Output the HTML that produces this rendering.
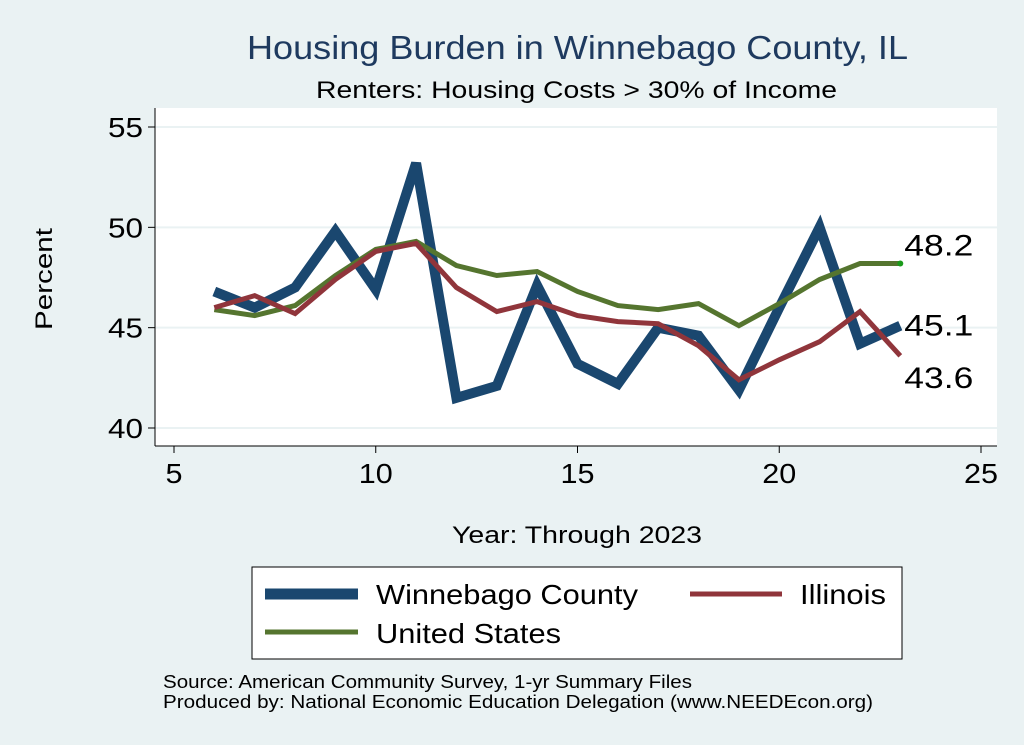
<!DOCTYPE html>
<html><head><meta charset="utf-8"><style>
body{margin:0;background:#eaf2f3;}
svg{display:block;font-family:"Liberation Sans",Arial,sans-serif;}
</style></head><body>
<svg id="chart" width="1024" height="745" viewBox="0 0 1024 745">
<rect x="0" y="0" width="1024" height="745" fill="#eaf2f3"/>
<text x="247" y="59" font-size="33" textLength="661" lengthAdjust="spacingAndGlyphs" fill="#1e3a5f">Housing Burden in Winnebago County, IL</text>
<text x="316" y="98" font-size="24" textLength="521" lengthAdjust="spacingAndGlyphs" fill="#000">Renters: Housing Costs &gt; 30% of Income</text>
<rect x="155" y="108" width="842" height="338" fill="#ffffff"/>
<g id="grid"></g><g id="axes"></g><g id="series"></g><g id="labels"></g>
<text x="52" y="330" font-size="24" textLength="102" lengthAdjust="spacingAndGlyphs" transform="rotate(-90 52 330)">Percent</text>
<text x="452" y="543" font-size="24" textLength="250" lengthAdjust="spacingAndGlyphs">Year: Through 2023</text>
<g>
<rect x="252" y="567" width="650" height="92" fill="#fff" stroke="#000" stroke-width="1"/>
<line x1="265" y1="594" x2="358" y2="594" stroke="#1a476f" stroke-width="11"/>
<text x="376" y="604" font-size="28" textLength="262" lengthAdjust="spacingAndGlyphs">Winnebago County</text>
<line x1="690" y1="594" x2="782" y2="594" stroke="#90353b" stroke-width="5"/>
<text x="800" y="604" font-size="28" textLength="86" lengthAdjust="spacingAndGlyphs">Illinois</text>
<line x1="265" y1="632" x2="358" y2="632" stroke="#55752f" stroke-width="5"/>
<text x="376" y="643" font-size="28" textLength="185" lengthAdjust="spacingAndGlyphs">United States</text>
</g>
<text x="163" y="688" font-size="18" textLength="529" lengthAdjust="spacingAndGlyphs">Source: American Community Survey, 1-yr Summary Files</text>
<text x="163" y="708" font-size="18" textLength="710" lengthAdjust="spacingAndGlyphs">Produced by: National Economic Education Delegation (www.NEEDEcon.org)</text>
</svg>
<script>
const years=[6,7,8,9,10,11,12,13,14,15,16,17,18,19,20,21,22,23];
const winnebago=[46.8,46.0,47.0,49.8,46.9,53.2,41.5,42.1,47.1,43.2,42.2,45.0,44.6,41.9,46.0,50.0,44.2,45.1];
const illinois=[46.0,46.6,45.7,47.4,48.8,49.2,47.0,45.8,46.3,45.6,45.3,45.2,44.1,42.4,43.4,44.3,45.8,43.6];
const unitedStates=[45.9,45.6,46.1,47.6,48.9,49.3,48.1,47.6,47.8,46.8,46.1,45.9,46.2,45.1,46.2,47.4,48.2,48.2];
const xTicks=[5,10,15,20,25];
const yTicks=[40,45,50,55];
const NS='http://www.w3.org/2000/svg';
const X=v=>174+(v-5)*(981-174)/20;
const Y=v=>428-(v-40)*(428-127)/15;
function mk(tag,attrs,parent,txt){const e=document.createElementNS(NS,tag);for(const k in attrs)e.setAttribute(k,attrs[k]);if(txt!==undefined)e.textContent=txt;document.getElementById(parent).appendChild(e);return e;}
yTicks.forEach(t=>{
 const g=mk('line',{x1:155,x2:997,y1:Y(t),y2:Y(t),stroke:'#eaf2f3','stroke-width':2},'grid');
 
 
 const tk=mk('line',{x1:148,x2:155,y1:Y(t),y2:Y(t),stroke:'#000'},'axes');
 
 
 const l=mk('text',{x:143,y:Y(t)+10,'text-anchor':'end','font-size':28,textLength:35,lengthAdjust:'spacingAndGlyphs'},'axes',String(t));
 
 
});
xTicks.forEach(t=>{
 const tk=mk('line',{x1:X(t),x2:X(t),y1:446,y2:453,stroke:'#000'},'axes');
 
 
 const s=String(t);
 const l=mk('text',{x:X(t),y:483,'text-anchor':'middle','font-size':28,textLength:s.length*17,lengthAdjust:'spacingAndGlyphs'},'axes',s);
 
 
});
const ya=mk('line',{x1:155,x2:155,y1:108,y2:446,stroke:'#000'},'axes');


const xa=mk('line',{x1:155,x2:997,y1:446,y2:446,stroke:'#000'},'axes');


function line(vals,color,w,name){
 const d=vals.map((v,i)=>(i?'L':'M')+X(years[i]).toFixed(1)+','+Y(v).toFixed(1)).join(' ');
 const p=mk('path',{d:d,fill:'none',stroke:color,'stroke-width':w,'stroke-linejoin':'miter'},'series');
 
 
}
line(winnebago,'#1a476f',10,'winnebago-line');
line(unitedStates,'#55752f',5,'us-line');
line(illinois,'#90353b',5,'illinois-line');
const n=years.length-1;
const dot=mk('circle',{cx:X(years[n]),cy:Y(unitedStates[n]),r:3,fill:'#1a9a1a'},'series');


[[unitedStates,-8,'us-end-label'],[winnebago,10,'winnebago-end-label'],[illinois,32,'illinois-end-label']].forEach(([s,dy,nm])=>{
 const t=mk('text',{x:X(years[n])+4,y:Y(s[n])+dy,'font-size':30,textLength:69,lengthAdjust:'spacingAndGlyphs'},'labels',s[n].toFixed(1));
 
 
});
</script>
</body></html>
